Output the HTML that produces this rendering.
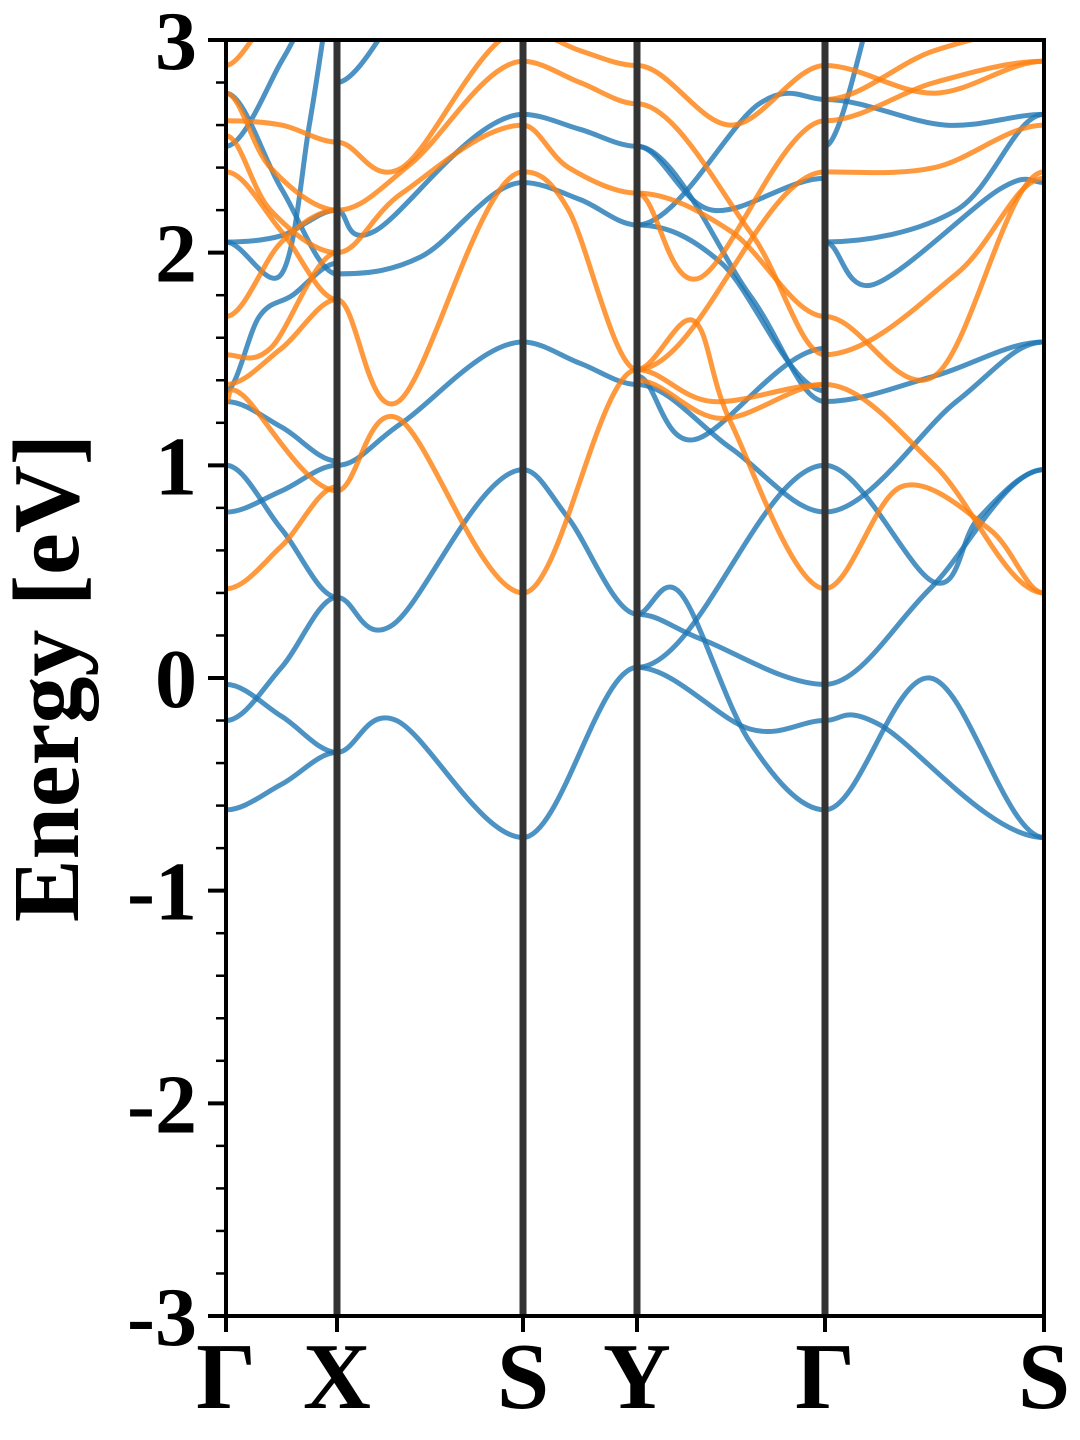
<!DOCTYPE html>
<html><head><meta charset="utf-8"><style>
html,body{margin:0;padding:0;background:#fff;width:1080px;height:1440px;overflow:hidden}
svg text{font-family:"Liberation Serif",serif;font-weight:bold}
</style></head><body>
<svg id="chart" width="1080" height="1440" viewBox="0 0 1080 1440" xmlns="http://www.w3.org/2000/svg">
<g id="bands"></g>
<g id="vlines"></g>
<g id="axes"></g>
<text font-family="Liberation Serif, serif" font-weight="bold" transform="translate(78,678) rotate(-90)" text-anchor="middle" font-size="94">Energy [eV]</text>
</svg>
<script>
const kLabels = ["Γ","X","S","Y","Γ","S"];
const kPoints = [0, 111, 297, 411, 599, 818];
const yTicks = [-3,-2,-1,0,1,2,3];
const yTickLabels = ["-3","-2","-1","0","1","2","3"];
const blueBands = [
 [0,[[0,-0.62],[0.5,-0.5],[1,-0.35]]],
 [0,[[0,-0.2],[0.5,0.05],[1,0.38]]],
 [0,[[0,-0.03],[0.5,-0.18],[1,-0.35]]],
 [0,[[0,1.0],[0.5,0.7],[1,0.38]]],
 [0,[[0,0.78],[0.5,0.88],[1,1.0]]],
 [0,[[0,1.3],[0.5,1.18],[1,1.02]]],
 [0,[[0,1.35],[0.3,1.7],[0.6,1.8],[1,1.95]]],
 [0,[[0,2.05],[0.5,2.08],[1,2.2]]],
 [0,[[0,2.05],[0.5,1.9],[0.75,2.6],[0.9,3.1]]],
 [0,[[0,2.75],[0.5,2.3],[1,1.9]]],
 [0,[[0,2.5],[0.5,2.9],[0.7,3.1]]],
 [1,[[0,-0.35],[0.32,-0.2],[1,-0.75]]],
 [1,[[0,0.38],[0.3,0.25],[1,0.98]]],
 [1,[[0,1.0],[0.35,1.2],[1,1.58]]],
 [1,[[0,1.9],[0.45,1.98],[1,2.33]]],
 [1,[[0,2.2],[0.2,2.1],[1,2.65]]],
 [1,[[0,2.8],[0.3,3.1]]],
 [2,[[0,-0.75],[1,0.05]]],
 [2,[[0,0.98],[0.4,0.75],[1,0.3]]],
 [2,[[0,1.58],[0.5,1.48],[1,1.38]]],
 [2,[[0,2.33],[0.5,2.25],[1,2.13]]],
 [2,[[0,2.65],[0.5,2.58],[1,2.5]]],
 [3,[[0,0.3],[0.23,0.4],[0.6,-0.3],[1,-0.62]]],
 [3,[[0,0.3],[0.35,0.18],[1,-0.03]]],
 [3,[[0,0.05],[0.6,-0.24],[1,-0.2]]],
 [3,[[0,0.05],[1,1.0]]],
 [3,[[0,1.38],[0.5,1.08],[1,0.78]]],
 [3,[[0,1.42],[0.3,1.12],[1,1.55]]],
 [3,[[0,2.13],[0.65,2.7],[1,2.72]]],
 [3,[[0,2.5],[0.6,1.8],[1,1.3]]],
 [3,[[0,2.13],[0.45,1.95],[1,1.35]]],
 [3,[[0,2.5],[0.4,2.2],[1,2.35]]],
 [4,[[0,-0.62],[0.48,0.0],[1,-0.75]]],
 [4,[[0,-0.2],[0.25,-0.22],[1,-0.75]]],
 [4,[[0,-0.03],[0.48,0.42],[1,0.98]]],
 [4,[[0,1.0],[0.5,0.45],[0.7,0.75],[1,0.98]]],
 [4,[[0,0.78],[0.6,1.3],[1,1.58]]],
 [4,[[0,1.3],[0.5,1.42],[1,1.58]]],
 [4,[[0,2.05],[0.22,1.85],[0.8,2.3],[1,2.33]]],
 [4,[[0,2.05],[0.6,2.2],[1,2.65]]],
 [4,[[0,2.72],[0.55,2.6],[1,2.65]]],
 [4,[[0,2.5],[0.2,3.1]]]
];
const orangeBands = [
 [0,[[0,0.42],[0.5,0.62],[1,0.9]]],
 [0,[[0,1.3],[0.15,1.33],[1,0.88]]],
 [0,[[0,1.38],[0.5,1.55],[1,1.78]]],
 [0,[[0,1.52],[0.4,1.55],[1,2.0]]],
 [0,[[0,1.7],[0.5,2.05],[1,2.2]]],
 [0,[[0,2.38],[0.5,2.1],[1,1.78]]],
 [0,[[0,2.55],[0.4,2.2],[1,2.0]]],
 [0,[[0,2.62],[0.5,2.6],[1,2.52]]],
 [0,[[0,2.75],[0.4,2.4],[1,2.2]]],
 [0,[[0,2.88],[0.3,3.05]]],
 [1,[[0,0.88],[0.33,1.22],[1,0.4]]],
 [1,[[0,1.78],[0.33,1.3],[1,2.38]]],
 [1,[[0,2.0],[0.35,2.28],[1,2.6]]],
 [1,[[0,2.2],[0.4,2.42],[1,2.9]]],
 [1,[[0,2.52],[0.35,2.4],[1,3.05]]],
 [2,[[0,0.4],[1,1.45]]],
 [2,[[0,2.38],[0.4,2.2],[1,1.45]]],
 [2,[[0,2.6],[0.4,2.4],[1,2.28]]],
 [2,[[0,2.9],[0.5,2.8],[1,2.7]]],
 [2,[[0,3.05],[0.5,2.95],[1,2.88]]],
 [3,[[0,1.45],[0.3,1.68],[0.5,1.2],[1,0.42]]],
 [3,[[0,1.45],[0.4,1.3],[1,1.38]]],
 [3,[[0,1.4],[0.45,1.22],[1,1.38]]],
 [3,[[0,1.45],[1,2.38]]],
 [3,[[0,2.28],[0.33,1.88],[1,2.62]]],
 [3,[[0,2.28],[0.5,2.1],[1,1.7]]],
 [3,[[0,2.7],[0.6,2.1],[1,1.52]]],
 [3,[[0,2.88],[0.5,2.6],[1,2.88]]],
 [4,[[0,0.42],[0.35,0.9],[0.75,0.7],[1,0.4]]],
 [4,[[0,1.38],[0.5,1.0],[1,0.4]]],
 [4,[[0,1.7],[0.5,1.42],[1,2.38]]],
 [4,[[0,1.52],[0.6,1.9],[1,2.35]]],
 [4,[[0,2.38],[0.5,2.4],[1,2.6]]],
 [4,[[0,2.62],[0.5,2.8],[1,2.9]]],
 [4,[[0,2.88],[0.5,2.75],[1,2.9]]],
 [4,[[0,2.72],[0.5,2.95],[1,3.05]]]
];
const NS='http://www.w3.org/2000/svg';
const X0=226,X1=1044,Y0=40,Y1=1316,EMIN=-3,EMAX=3;
const kMax=kPoints[kPoints.length-1];
function xs(k){return X0+(k/kMax)*(X1-X0);}
function ys(e){return Y1-(e-EMIN)/(EMAX-EMIN)*(Y1-Y0);}
function mk(t,parent){const el=document.createElementNS(NS,t);parent.appendChild(el);return el;}
function pathFor(seg,pts){
 const a=kPoints[seg],b=kPoints[seg+1];
 const P=pts.map(p=>[xs(a+(b-a)*p[0]),ys(p[1])]);
 const n=P.length;
 let d='M'+P[0][0].toFixed(1)+','+P[0][1].toFixed(1);
 for(let i=0;i<n-1;i++){
  const p0=P[i-1]||P[i],p1=P[i],p2=P[i+1],p3=P[i+2]||P[i+1];
  let c1=[p1[0]+(p2[0]-p0[0])/6,p1[1]+(p2[1]-p0[1])/6];
  let c2=[p2[0]-(p3[0]-p1[0])/6,p2[1]-(p3[1]-p1[1])/6];
  if(i===0&&pts[0][0]===0){c1=[p1[0]+(p2[0]-p1[0])/3,p1[1]];}
  if(i===n-2&&pts[n-1][0]===1){c2=[p2[0]-(p2[0]-p1[0])/3,p2[1]];}
  d+=' C'+c1[0].toFixed(1)+','+c1[1].toFixed(1)+' '+c2[0].toFixed(1)+','+c2[1].toFixed(1)+' '+p2[0].toFixed(1)+','+p2[1].toFixed(1);
 }
 return d;
}
const svg=document.getElementById('chart');
const clip=mk('clipPath',mk('defs',svg));clip.setAttribute('id','pc');
const cr=mk('rect',clip);cr.setAttribute('x',X0);cr.setAttribute('y',Y0);cr.setAttribute('width',X1-X0);cr.setAttribute('height',Y1-Y0);
const bg=document.getElementById('bands');bg.setAttribute('clip-path','url(#pc)');
blueBands.forEach(b=>{const p=mk('path',bg);
 
 
 p.setAttribute('d',pathFor(b[0],b[1]));p.setAttribute('fill','none');p.setAttribute('stroke','#1f77b4');p.setAttribute('stroke-opacity','0.8');p.setAttribute('stroke-width','5');});
orangeBands.forEach(b=>{const p=mk('path',bg);
 
 
 p.setAttribute('d',pathFor(b[0],b[1]));p.setAttribute('fill','none');p.setAttribute('stroke','#ff7f0e');p.setAttribute('stroke-opacity','0.8');p.setAttribute('stroke-width','5');});
const vg=document.getElementById('vlines');
kPoints.slice(1,-1).forEach(k=>{const l=mk('line',vg);
 
 
 l.setAttribute('x1',xs(k));l.setAttribute('x2',xs(k));l.setAttribute('y1',Y0);l.setAttribute('y2',Y1);l.setAttribute('stroke','#333');l.setAttribute('stroke-width','7');});
const ag=document.getElementById('axes');
const fr=mk('rect',ag);


fr.setAttribute('x',X0);fr.setAttribute('y',Y0);fr.setAttribute('width',X1-X0);fr.setAttribute('height',Y1-Y0);fr.setAttribute('fill','none');fr.setAttribute('stroke','#000');fr.setAttribute('stroke-width','4');
for(let i=0;i<=30;i++){const e=EMIN+i*0.2;const major=i%5===0;const t=mk('line',ag);
 
 
 t.setAttribute('x1',X0);t.setAttribute('x2',X0-(major?18:10));t.setAttribute('y1',ys(e));t.setAttribute('y2',ys(e));t.setAttribute('stroke','#000');t.setAttribute('stroke-width',major?4:2.5);}
yTicks.forEach((v,i)=>{const t=mk('text',ag);
 
 
 t.setAttribute('font-family','Liberation Serif, serif');t.setAttribute('font-weight','bold');
 t.setAttribute('x',197);t.setAttribute('y',ys(v)+29);t.setAttribute('text-anchor','end');t.setAttribute('font-size','84');t.textContent=yTickLabels[i];});
kPoints.forEach((k,i)=>{const tk=mk('line',ag);
 
 
 tk.setAttribute('x1',xs(k));tk.setAttribute('x2',xs(k));tk.setAttribute('y1',Y1);tk.setAttribute('y2',Y1+16);tk.setAttribute('stroke','#000');tk.setAttribute('stroke-width','4');
 const t=mk('text',ag);
 
 
 t.setAttribute('font-family','Liberation Serif, serif');t.setAttribute('font-weight','bold');
 t.setAttribute('x',xs(k));t.setAttribute('y',1408);t.setAttribute('text-anchor','middle');t.setAttribute('font-size','94');t.textContent=kLabels[i];});
</script>
</body></html>
